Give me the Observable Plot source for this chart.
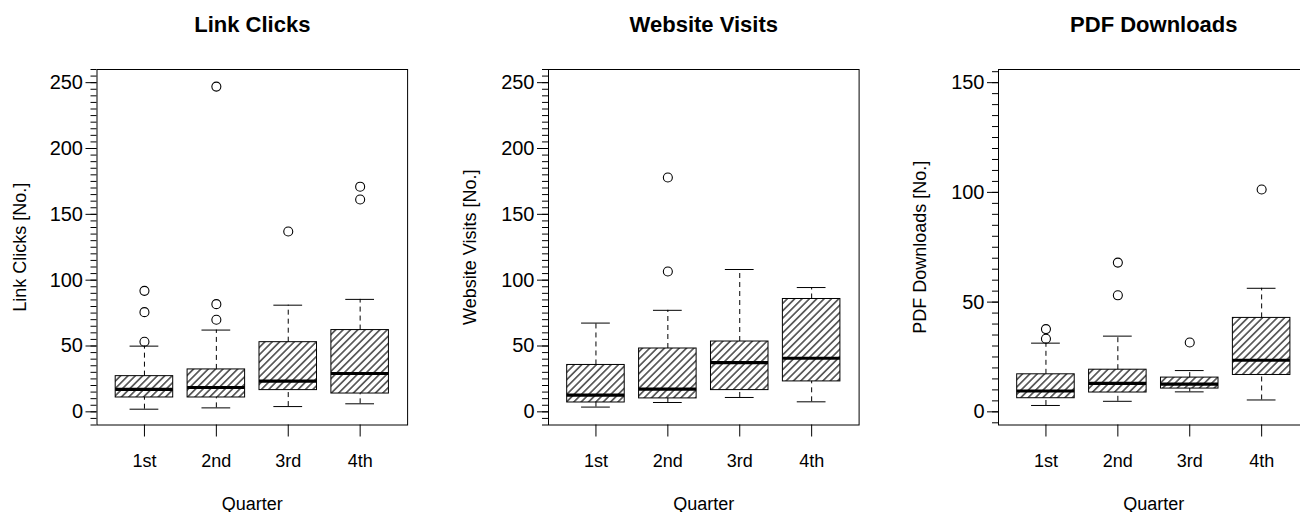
<!DOCTYPE html>
<html>
<head>
<meta charset="utf-8">
<script src="https://cdn.jsdelivr.net/npm/d3@7"></script>
<script src="https://cdn.jsdelivr.net/npm/@observablehq/plot@0.6"></script>
<style>
  html, body { margin: 0; padding: 0; background: white; }
  #wrap { width: 1300px; height: 512px; overflow: hidden; display: flex; flex-wrap: nowrap; }
  #wrap > svg { flex: 0 0 auto; }
</style>
</head>
<body>
<div id="wrap"></div>
<script>
// ---- data ----
const quarters = ["1st", "2nd", "3rd", "4th"];

const titles = ["Link Clicks", "Website Visits", "PDF Downloads"];
const yLabels = ["Link Clicks [No.]", "Website Visits [No.]", "PDF Downloads [No.]"];
const xLabel = "Quarter";

const linkLower   = [2.0, 3.0, 4.0, 6.1];
const linkQ1      = [10.9, 10.9, 16.5, 13.9];
const linkMedian  = [17.0, 18.5, 23.3, 29.1];
const linkQ3      = [27.1, 32.2, 52.9, 62.1];
const linkUpper   = [49.9, 62.1, 81.0, 85.4];
const linkOutliers = [[53.2, 75.7, 91.9], [69.9, 81.8, 247], [137], [161.3, 171]];

const webLower   = [3.6, 7.1, 10.9, 7.6];
const webQ1      = [7.1, 10.2, 16.5, 23.1];
const webMedian  = [12.7, 17.3, 37.4, 40.7];
const webQ3      = [35.6, 48.1, 53.4, 85.7];
const webUpper   = [67.4, 77.1, 108.1, 94.4];
const webOutliers = [[], [106.6, 178], [], []];

const pdfLower   = [2.9, 4.8, 9.1, 5.4];
const pdfQ1      = [6.2, 8.8, 10.6, 16.8];
const pdfMedian  = [9.5, 13.0, 12.6, 23.5];
const pdfQ3      = [17.1, 19.2, 15.6, 42.8];
const pdfUpper   = [31.3, 34.5, 18.8, 56.3];
const pdfOutliers = [[33.3, 37.7], [53.1, 68], [31.6], [101.3]];

const linkTicks = [0, 50, 100, 150, 200, 250];
const webTicks  = [0, 50, 100, 150, 200, 250];
const pdfTicks  = [0, 50, 100, 150];

// ---- build ----
const panels = [
  {lo: linkLower, q1: linkQ1, med: linkMedian, q3: linkQ3, hi: linkUpper, out: linkOutliers, ticks: linkTicks, ylim: [0, 250], ml: 96.5},
  {lo: webLower, q1: webQ1, med: webMedian, q3: webQ3, hi: webUpper, out: webOutliers, ticks: webTicks, ylim: [0, 250], ml: 98},
  {lo: pdfLower, q1: pdfQ1, med: pdfMedian, q3: pdfQ3, hi: pdfUpper, out: pdfOutliers, ticks: pdfTicks, ylim: [0, 150], ml: 98}
];

const FONT = "'Liberation Sans', Arial, Helvetica, sans-serif";
const W = 450, H = 512, frameW = 310.6;
const wrap = document.getElementById("wrap");

panels.forEach((p, k) => {
  const rows = quarters.map((q, j) => ({i: j + 1, q, lo: p.lo[j], q1: p.q1[j], med: p.med[j], q3: p.q3[j], hi: p.hi[j]}));
  const outs = [];
  p.out.forEach((vals, j) => vals.forEach(v => outs.push({i: j + 1, v})));
  const ext = (p.ylim[1] - p.ylim[0]) * 0.04;
  const ydom = [p.ylim[0] - ext, p.ylim[1] + ext];
  const minor = d3.range(Math.ceil(ydom[0] / 5) * 5, ydom[1] + 0.001, 5);
  const hatchId = "hatch" + k;

  const svg = Plot.plot({
    width: W,
    height: H,
    marginLeft: p.ml,
    marginRight: W - p.ml - frameW,
    marginTop: 69,
    marginBottom: 87.5,
    style: {fontFamily: FONT, fontSize: "18px", color: "black", background: "white"},
    x: {domain: [0.34, 4.66], axis: null},
    y: {domain: ydom, axis: null},
    marks: [
      Plot.rect(rows, {x1: d => d.i - 0.4, x2: d => d.i + 0.4, y1: "q1", y2: "q3", fill: `url(#${hatchId})`, stroke: "black", strokeWidth: 1}),
      Plot.ruleX(rows, {x: "i", y1: "q3", y2: "hi", stroke: "black", strokeWidth: 1, strokeDasharray: "5,4"}),
      Plot.ruleX(rows, {x: "i", y1: "lo", y2: "q1", stroke: "black", strokeWidth: 1, strokeDasharray: "5,4"}),
      Plot.ruleY(rows, {y: "hi", x1: d => d.i - 0.2, x2: d => d.i + 0.2, stroke: "black", strokeWidth: 1}),
      Plot.ruleY(rows, {y: "lo", x1: d => d.i - 0.2, x2: d => d.i + 0.2, stroke: "black", strokeWidth: 1}),
      Plot.ruleY(rows, {y: "med", x1: d => d.i - 0.4, x2: d => d.i + 0.4, stroke: "black", strokeWidth: 3.2}),
      Plot.dot(outs, {x: "i", y: "v", r: 4.5, stroke: "black", strokeWidth: 1.1, fill: "none"}),
      Plot.frame({stroke: "black", strokeWidth: 1}),
      Plot.axisY({ticks: p.ticks, tickSize: 11, tickPadding: 3, fontSize: 20, label: null, tickFormat: d => String(d)}),
      Plot.axisY({ticks: minor, tickSize: 6, text: null, label: null}),
      Plot.axisX({ticks: [1, 2, 3, 4], tickFormat: d => quarters[d - 1], tickSize: 12, tickPadding: 17, fontSize: 18, label: null}),
      Plot.text([titles[k]], {frameAnchor: "top", lineAnchor: "bottom", dy: -38, fontSize: 22, fontWeight: "bold", fill: "black"}),
      Plot.text([yLabels[k]], {frameAnchor: "left", textAnchor: "middle", lineAnchor: "bottom", rotate: -90, dx: 25 - p.ml, fontSize: 18, fill: "black"}),
      Plot.text([xLabel], {frameAnchor: "bottom", lineAnchor: "bottom", dy: 84.5, fontSize: 18, fill: "black"})
    ]
  });

  const defs = d3.select(svg).insert("defs", ":first-child");
  const pat = defs.append("pattern")
    .attr("id", hatchId)
    .attr("patternUnits", "userSpaceOnUse")
    .attr("width", 5.2)
    .attr("height", 5.2)
    .attr("patternTransform", "rotate(45)");
  pat.append("rect").attr("width", 5.2).attr("height", 5.2).attr("fill", "white");
  pat.append("line").attr("x1", 2.6).attr("y1", -1).attr("x2", 2.6).attr("y2", 6.2)
    .attr("stroke", "#111").attr("stroke-width", 1.2);

  wrap.appendChild(svg);
});
</script>
</body>
</html>
